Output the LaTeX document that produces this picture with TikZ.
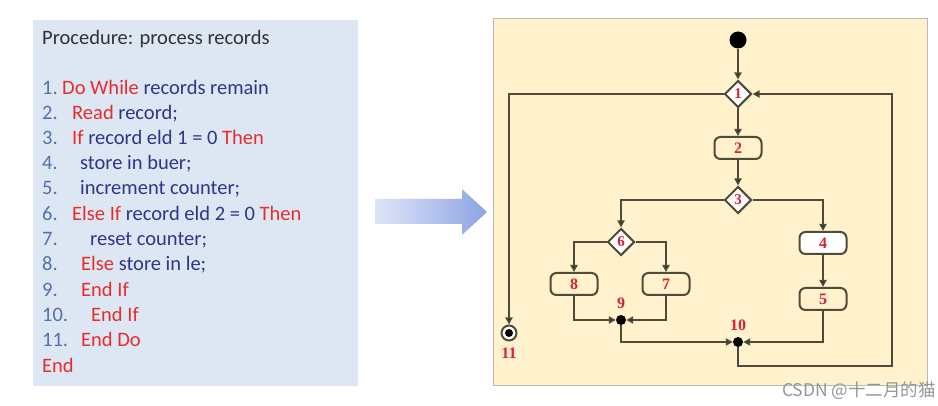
\documentclass[tikz,border=0pt]{standalone}
\usepackage{fontspec}
\setmainfont{Carlito}
\newfontfamily\serifb{Liberation Serif}
\newfontfamily\cjkf{Noto Sans CJK SC}
\usetikzlibrary{shapes.geometric,arrows.meta}
\definecolor{numcol}{RGB}{84,112,170}
\definecolor{kwcol}{RGB}{232,44,44}
\definecolor{txtcol}{RGB}{44,54,140}
\definecolor{titlecol}{RGB}{50,50,50}
\definecolor{panelblue}{RGB}{221,231,243}
\definecolor{cream}{RGB}{255,242,204}
\definecolor{lncol}{RGB}{80,74,56}
\definecolor{lblred}{RGB}{222,30,60}
\definecolor{arrowlight}{RGB}{222,229,248}
\definecolor{arrowdark}{RGB}{140,164,228}
\definecolor{framegray}{RGB}{185,185,185}
\definecolor{wmgray}{RGB}{150,150,150}
\newcommand{\kw}[1]{\textcolor{kwcol}{#1}}
\begin{document}
\begin{tikzpicture}[x=1pt,y=-1pt,
  codetxt/.style={anchor=base west,inner sep=0pt,text=txtcol,font=\fontsize{20.5}{24}\selectfont},
  codenum/.style={anchor=base west,inner sep=0pt,text=numcol,font=\fontsize{20.5}{24}\selectfont},
  dia/.style={diamond,draw=lncol,line width=2pt,fill=white,minimum width=27pt,minimum height=27pt,inner sep=0pt,text=lblred,font=\serifb\bfseries\fontsize{15}{15}\selectfont},
  act/.style={rectangle,rounded corners=6pt,draw=lncol,line width=2pt,fill=cream,minimum width=47pt,minimum height=22pt,inner sep=0pt,text=lblred,font=\serifb\bfseries\fontsize{16}{16}\selectfont},
  lbl/.style={inner sep=0pt,text=lblred,font=\serifb\bfseries\fontsize{16}{16}\selectfont},
  dot/.style={circle,fill=black,inner sep=0pt},
  flow/.style={draw=lncol,line width=2pt,-{Triangle[length=7pt,width=7pt,fill=black]}},
]
\useasboundingbox (0,0) rectangle (938,406);
\fill[white] (0,0) rectangle (938,406);
% left panel
\fill[panelblue] (33,20) rectangle (358,386);
\node[codetxt,text=titlecol] (title) at (42,45) {Procedure: process records};
\node[codenum] (n1) at (42,95) {1.};
\node[codetxt] (t1) at (62,95) {\kw{Do While} records remain};
\node[codenum] (n2) at (42,120) {2.};
\node[codetxt] (t2) at (72,120) {\kw{Read} record;};
\node[codenum] (n3) at (42,145) {3.};
\node[codetxt] (t3) at (72,145) {\kw{If} record eld 1 = 0 \kw{Then}};
\node[codenum] (n4) at (42,170) {4.};
\node[codetxt] (t4) at (80,170) {store in buer;};
\node[codenum] (n5) at (42,195) {5.};
\node[codetxt] (t5) at (80,195) {increment counter;};
\node[codenum] (n6) at (42,221) {6.};
\node[codetxt] (t6) at (72,221) {\kw{Else If} record eld 2 = 0 \kw{Then}};
\node[codenum] (n7) at (42,246) {7.};
\node[codetxt] (t7) at (90,246) {reset counter;};
\node[codenum] (n8) at (42,271) {8.};
\node[codetxt] (t8) at (81,271) {\kw{Else} store in le;};
\node[codenum] (n9) at (42,297) {9.};
\node[codetxt] (t9) at (81,297) {\kw{End If}};
\node[codenum] (n10) at (42,322) {10.};
\node[codetxt] (t10) at (91,322) {\kw{End If}};
\node[codenum] (n11) at (42,347) {11.};
\node[codetxt] (t11) at (81,347) {\kw{End Do}};
\node[codetxt,text=kwcol] (tend) at (42,373) {End};
% big arrow
\shade[left color=arrowlight,right color=arrowdark]
  (375,199) -- (462,199) -- (462,189) -- (487,212) -- (462,235) -- (462,224) -- (375,224) -- cycle;
% right panel
\fill[cream] (493,18) rectangle (927,385);
\draw[draw=framegray,line width=0.8pt] (493,18) rectangle (927,385);
% nodes
\node[dot,minimum size=17pt] (s) at (738,40) {};
\node[dia] (d1) at (738,94) {1};
\node[act] (a2) at (738,148) {2};
\node[dia] (d3) at (738,200) {3};
\node[dia] (d6) at (621,242) {6};
\node[act,fill=white] (a4) at (823,243) {4};
\node[act] (a5) at (823,299) {5};
\node[act] (a8) at (574,284) {8};
\node[act] (a7) at (666,284) {7};
\node[dot,minimum size=10pt] (j9) at (621,320) {};
\node[dot,minimum size=10pt] (j10) at (738,342) {};
\node[circle,draw=lncol,line width=2pt,fill=white,minimum size=15pt,inner sep=0pt] (e11) at (509,333) {};
\fill[black] (e11.center) circle (4pt);
\node[lbl] (l9) at (621,303) {9};
\node[lbl] (l10) at (738,325) {10};
\node[lbl] (l11) at (509,353) {11};
\coordinate (loop) at (892,366);
% connectors
\draw[flow] (s) -- (d1);
\draw[flow] (d1.west) -| (e11.north);
\draw[flow] (d1) -- (a2);
\draw[flow] (a2) -- (d3);
\draw[flow] (d3.west) -| (d6.north);
\draw[flow] (d3.east) -| (a4.north);
\draw[flow] (a4) -- (a5);
\draw[flow] (d6.west) -| (a8.north);
\draw[flow] (d6.east) -| (a7.north);
\draw[flow] (a8.south) |- (j9.west);
\draw[flow] (a7.south) |- (j9.east);
\draw[flow] (j9.south) |- (j10.west);
\draw[flow] (a5.south) |- (j10.east);
\draw[flow] (j10.south) |- (loop) |- (d1.east);
% watermark
\node[anchor=east,inner sep=0pt,text=wmgray,font=\cjkf\fontsize{17.5}{17.5}\selectfont] (wm) at (936,391) {CSDN @十二月的猫};
\end{tikzpicture}
\end{document}
